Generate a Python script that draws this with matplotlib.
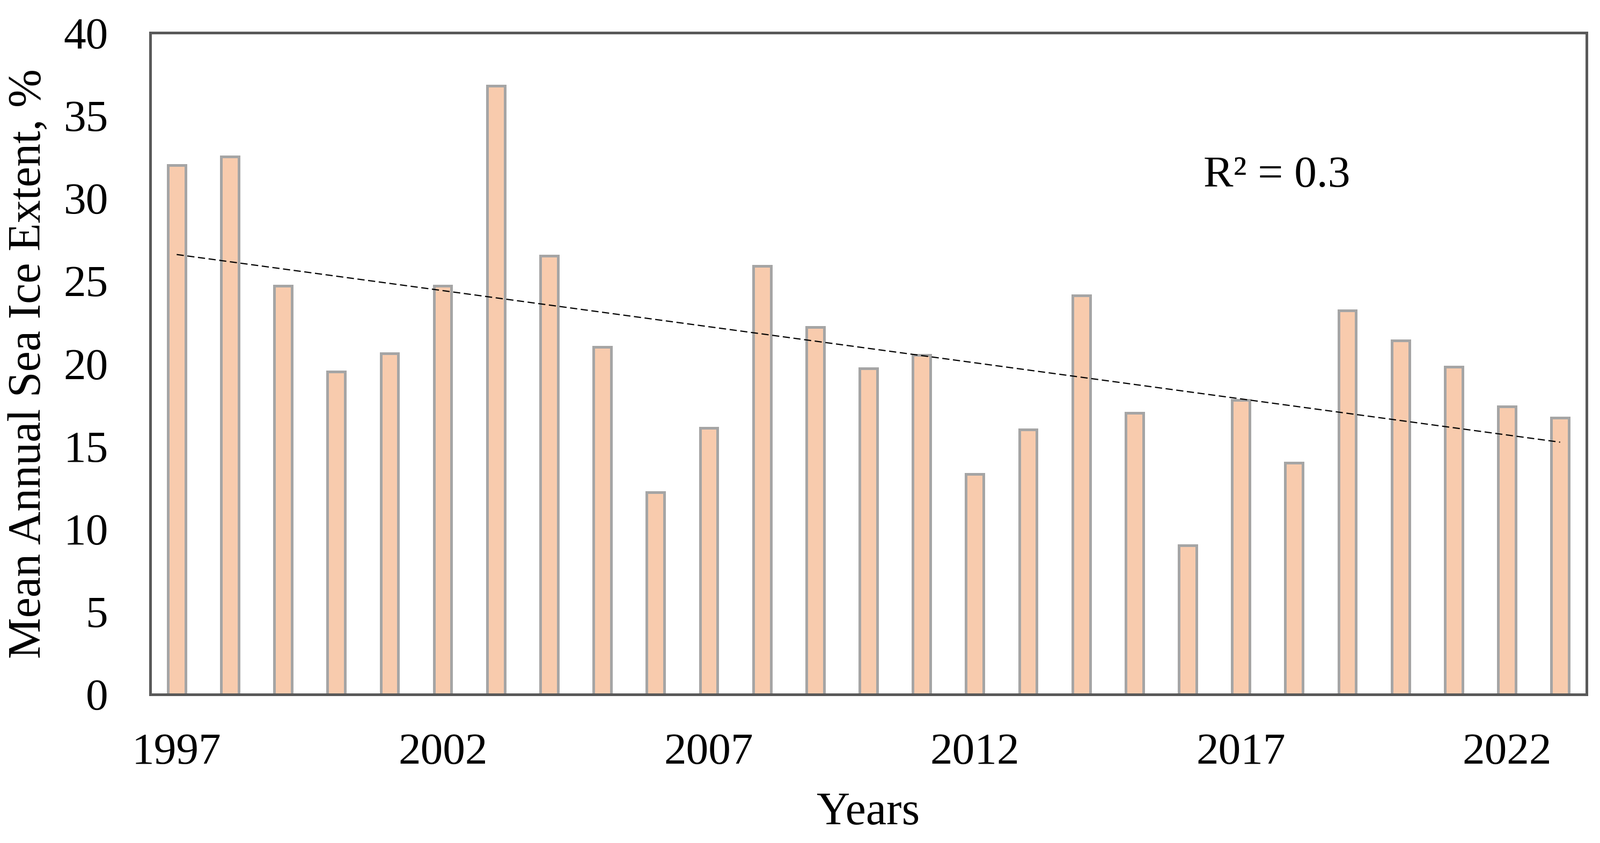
import numpy as np
import matplotlib
matplotlib.use("Agg")
import matplotlib.pyplot as plt

years = list(range(1997, 2024))
values = [32.0, 32.5, 24.7, 19.5, 20.6, 24.7, 36.8, 26.5, 21.0, 12.2, 16.1, 25.9,
          22.2, 19.7, 20.5, 13.3, 16.0, 24.1, 17.0, 9.0, 17.8, 14.0, 23.2, 21.4,
          19.8, 17.4, 16.7]
tick_years = [1997, 2002, 2007, 2012, 2017, 2022]
r2_label = "R² = 0.3"

plt.rcParams['font.family'] = ['Liberation Serif', 'DejaVu Serif']

fig = plt.figure(figsize=(14.91, 7.86), dpi=200)
ax = fig.add_axes([0.0938, 0.1765, 0.8979, 0.7848])

x = np.arange(len(years))
ax.bar(x, values, width=0.33, color='#F8CBAD', edgecolor='#A5A5A5', linewidth=1.8, zorder=2)

coef = np.polyfit(x, values, 1)
ax.plot(x, np.polyval(coef, x), color='black', linewidth=0.8, linestyle=(0, (6, 3)), zorder=3)

ax.set_xlim(-0.5, len(years) - 0.5)
ax.set_ylim(0, 40)
ax.set_yticks(range(0, 41, 5))
ax.set_xticks([years.index(y) for y in tick_years])
ax.set_xticklabels([str(y) for y in tick_years])
ax.tick_params(axis='both', length=0, labelsize=30, colors='black')
ax.tick_params(axis='x', pad=26)
ax.tick_params(axis='y', pad=28)
for s in ax.spines.values():
    s.set_color('#595959')
    s.set_linewidth(1.8)

ax.set_ylabel('Mean Annual Sea Ice Extent, %', fontsize=31)
ax.yaxis.label.set_va('center')
ax.yaxis.set_label_coords(-0.0845, 0.5)
ax.set_xlabel('Years', fontsize=31)
ax.xaxis.label.set_va('center')
ax.xaxis.set_label_coords(0.5, -0.18)

ax.text(19.3, 31.3, r2_label, fontsize=30, va='center', ha='left')

fig.savefig('out.png', dpi=200)
